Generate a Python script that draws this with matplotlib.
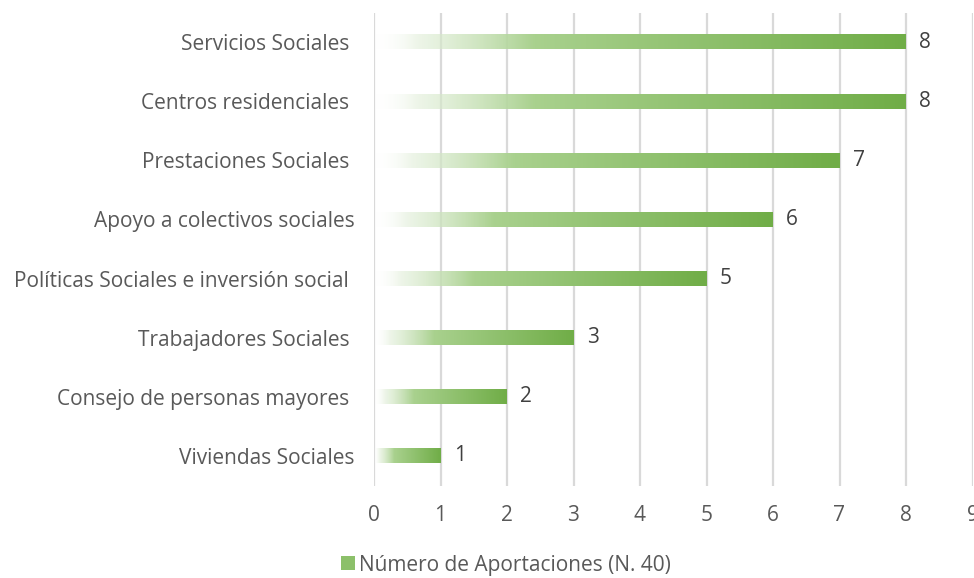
import numpy as np
import matplotlib.pyplot as plt
from matplotlib.colors import LinearSegmentedColormap, to_rgba
from matplotlib.patches import Patch

categories = ["Servicios Sociales ", "Centros residenciales ", "Prestaciones Sociales ",
              "Apoyo a colectivos sociales", "Políticas Sociales e inversión social ",
              "Trabajadores Sociales ", "Consejo de personas mayores ", "Viviendas Sociales"]
values = [8, 8, 7, 6, 5, 3, 2, 1]
xticks = list(range(0, 10))
legend_label = "Número de Aportaciones (N. 40)"

plt.rcParams['font.family'] = ['Open Sans', 'DejaVu Sans']

fig = plt.figure(figsize=(9.74, 5.78), dpi=100)
W, H = 974, 578
x0, x9 = 374, 972.5
ytop, ybot = 12.5, 485.5
ax = fig.add_axes([x0 / W, 1 - ybot / H, (x9 - x0) / W, (ybot - ytop) / H])

n = len(categories)
ypos = np.arange(n)

green = "#70AD47"
cmap = LinearSegmentedColormap.from_list(
    "g", [(0.0, to_rgba("#FFFFFF", 0.0)), (0.08, to_rgba("#E2EFDA", 0.6)),
          (0.3, to_rgba("#A9D18E", 1.0)), (1.0, to_rgba(green, 1.0))])
grad = np.linspace(0, 1, 256).reshape(1, -1)

h = 0.25
bars = ax.barh(ypos, values, height=h, color='none', zorder=3)
for b, v in zip(bars, values):
    y = b.get_y()
    ax.imshow(grad, cmap=cmap, extent=[0, v, y + h, y], aspect='auto',
              interpolation='bicubic', zorder=3)
    ax.text(v + 0.2, y + h / 2, str(v), va='center', ha='left',
            fontsize=15, color='#404040')

ax.set_xlim(0, 9)
ax.set_ylim(n - 0.5, -0.5)
ax.set_xticks(xticks)
ax.set_yticks(ypos)
ax.set_yticklabels(categories)
ax.tick_params(axis='both', length=0, labelsize=15, colors='#595959')
ax.tick_params(axis='x', pad=14)
ax.tick_params(axis='y', pad=14)
ax.grid(axis='x', color='#D9D9D9', linewidth=1.6, zorder=0)
ax.set_axisbelow(True)
for s in ax.spines.values():
    s.set_visible(False)

handle = Patch(facecolor='#8CC06A', edgecolor='none')
fig.legend([handle], [legend_label], loc='center', bbox_to_anchor=(506 / W, 1 - 565 / H),
           frameon=False, fontsize=15, handlelength=0.65, handleheight=0.65,
           handletextpad=0.2, labelcolor='#595959')

fig.savefig("out.png", dpi=100)
